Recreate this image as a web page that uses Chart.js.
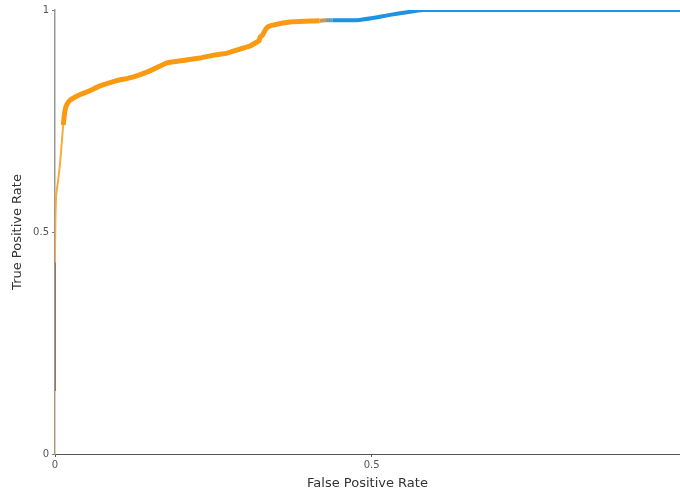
<!DOCTYPE html>
<html>
<head>
<meta charset="utf-8">
<script src="https://cdn.jsdelivr.net/npm/chart.js@4/dist/chart.umd.min.js"></script>
<style>
  html, body { margin: 0; padding: 0; background: #ffffff; }
  #wrap { width: 680px; height: 495px; }
</style>
</head>
<body>
<div id="wrap"><canvas id="roc" width="680" height="495"></canvas></div>
<script>
// ROC curve: false positive rate vs. true positive rate
const fpr = [0, 0, 0, 0.0016, 0.005, 0.008, 0.011, 0.013, 0.016, 0.019, 0.024, 0.032, 0.039,
  0.055, 0.071, 0.095, 0.123, 0.150, 0.177, 0.205, 0.229, 0.253, 0.272, 0.292, 0.308, 0.319,
  0.322, 0.324, 0.328, 0.332, 0.336, 0.344, 0.371, 0.403, 0.418, 0.428, 0.438, 0.450, 0.477,
  0.502, 0.529, 0.556, 0.581, 0.700, 0.850, 1.0];
const tpr = [0, 0.142, 0.432, 0.579, 0.617, 0.655, 0.707, 0.741, 0.775, 0.788, 0.797, 0.804, 0.809,
  0.818, 0.829, 0.840, 0.849, 0.863, 0.881, 0.887, 0.892, 0.899, 0.903, 0.912, 0.919, 0.928,
  0.930, 0.939, 0.944, 0.955, 0.962, 0.966, 0.973, 0.975, 0.976, 0.977, 0.977, 0.977, 0.977,
  0.982, 0.989, 0.995, 1.0, 1.0, 1.0, 1.0];
const xTicks = [0, 0.5];
const yTicks = [0, 0.5, 1];

const ORANGE = '#fa9a12';
const BLUE = '#1e93e4';

function segColor(ctx) {
  const x0 = ctx.p0.parsed.x, x1 = ctx.p1.parsed.x, y1 = ctx.p1.parsed.y;
  if (x0 === 0 && x1 === 0) {
    if (y1 <= 0.15) return '#f3d690';
    return '#946036';
  }
  if (x1 < 0.02 && y1 < 0.745) return '#f5ac3a';
  if (x0 >= 0.418 && x1 <= 0.428) return '#c79a52';
  if (x0 >= 0.428 && x1 <= 0.438) return '#6f9bb5';
  if (x0 >= 0.418) return BLUE;
  return ORANGE;
}
function segWidth(ctx) {
  const x0 = ctx.p0.parsed.x, x1 = ctx.p1.parsed.x, y1 = ctx.p1.parsed.y;
  if (x0 === 0 && x1 === 0) return 1.6;
  if (x1 < 0.02 && y1 < 0.745) return 2;
  if (x0 >= 0.418) return 4;
  return 5;
}

const points = fpr.map((x, i) => ({ x: x, y: tpr[i] }));

new Chart(document.getElementById('roc'), {
  type: 'scatter',
  data: {
    datasets: [{
      data: points,
      showLine: true,
      pointRadius: 0,
      borderColor: ORANGE,
      borderWidth: 5,
      tension: 0.2,
      borderJoinStyle: 'round',
      segment: { borderColor: segColor, borderWidth: segWidth }
    }]
  },
  options: {
    responsive: false,
    animation: false,
    layout: { padding: { top: 10, right: 0, left: 0, bottom: 0 } },
    plugins: { legend: { display: false }, tooltip: { enabled: false } },
    scales: {
      x: {
        type: 'linear',
        min: 0,
        max: 0.987,
        afterBuildTicks: s => { s.ticks = xTicks.map(v => ({ value: v })); },
        afterFit: s => { s.height = 41; },
        ticks: {
          font: { family: 'DejaVu Sans', size: 10 },
          color: '#555555',
          padding: 2,
          maxRotation: 0,
          callback: v => String(v)
        },
        grid: { drawOnChartArea: false, tickLength: 3, color: '#555555' },
        border: { color: '#555555', width: 1 },
        title: {
          display: true,
          text: 'False Positive Rate',
          font: { family: 'DejaVu Sans', size: 13 },
          color: '#333333',
          padding: { top: 12, bottom: 4 }
        }
      },
      y: {
        type: 'linear',
        min: 0,
        max: 1,
        afterBuildTicks: s => { s.ticks = yTicks.map(v => ({ value: v })); },
        afterFit: s => { s.width = 55; },
        ticks: {
          font: { family: 'DejaVu Sans', size: 10 },
          color: '#555555',
          padding: 3,
          callback: v => String(v)
        },
        grid: { drawOnChartArea: false, tickLength: 3, color: '#777777' },
        border: { color: '#9a9a9a', width: 1.5 },
        title: {
          display: true,
          text: 'True Positive Rate',
          font: { family: 'DejaVu Sans', size: 13 },
          color: '#333333',
          padding: { top: 10, bottom: 4 }
        }
      }
    }
  }
});
</script>
</body>
</html>
